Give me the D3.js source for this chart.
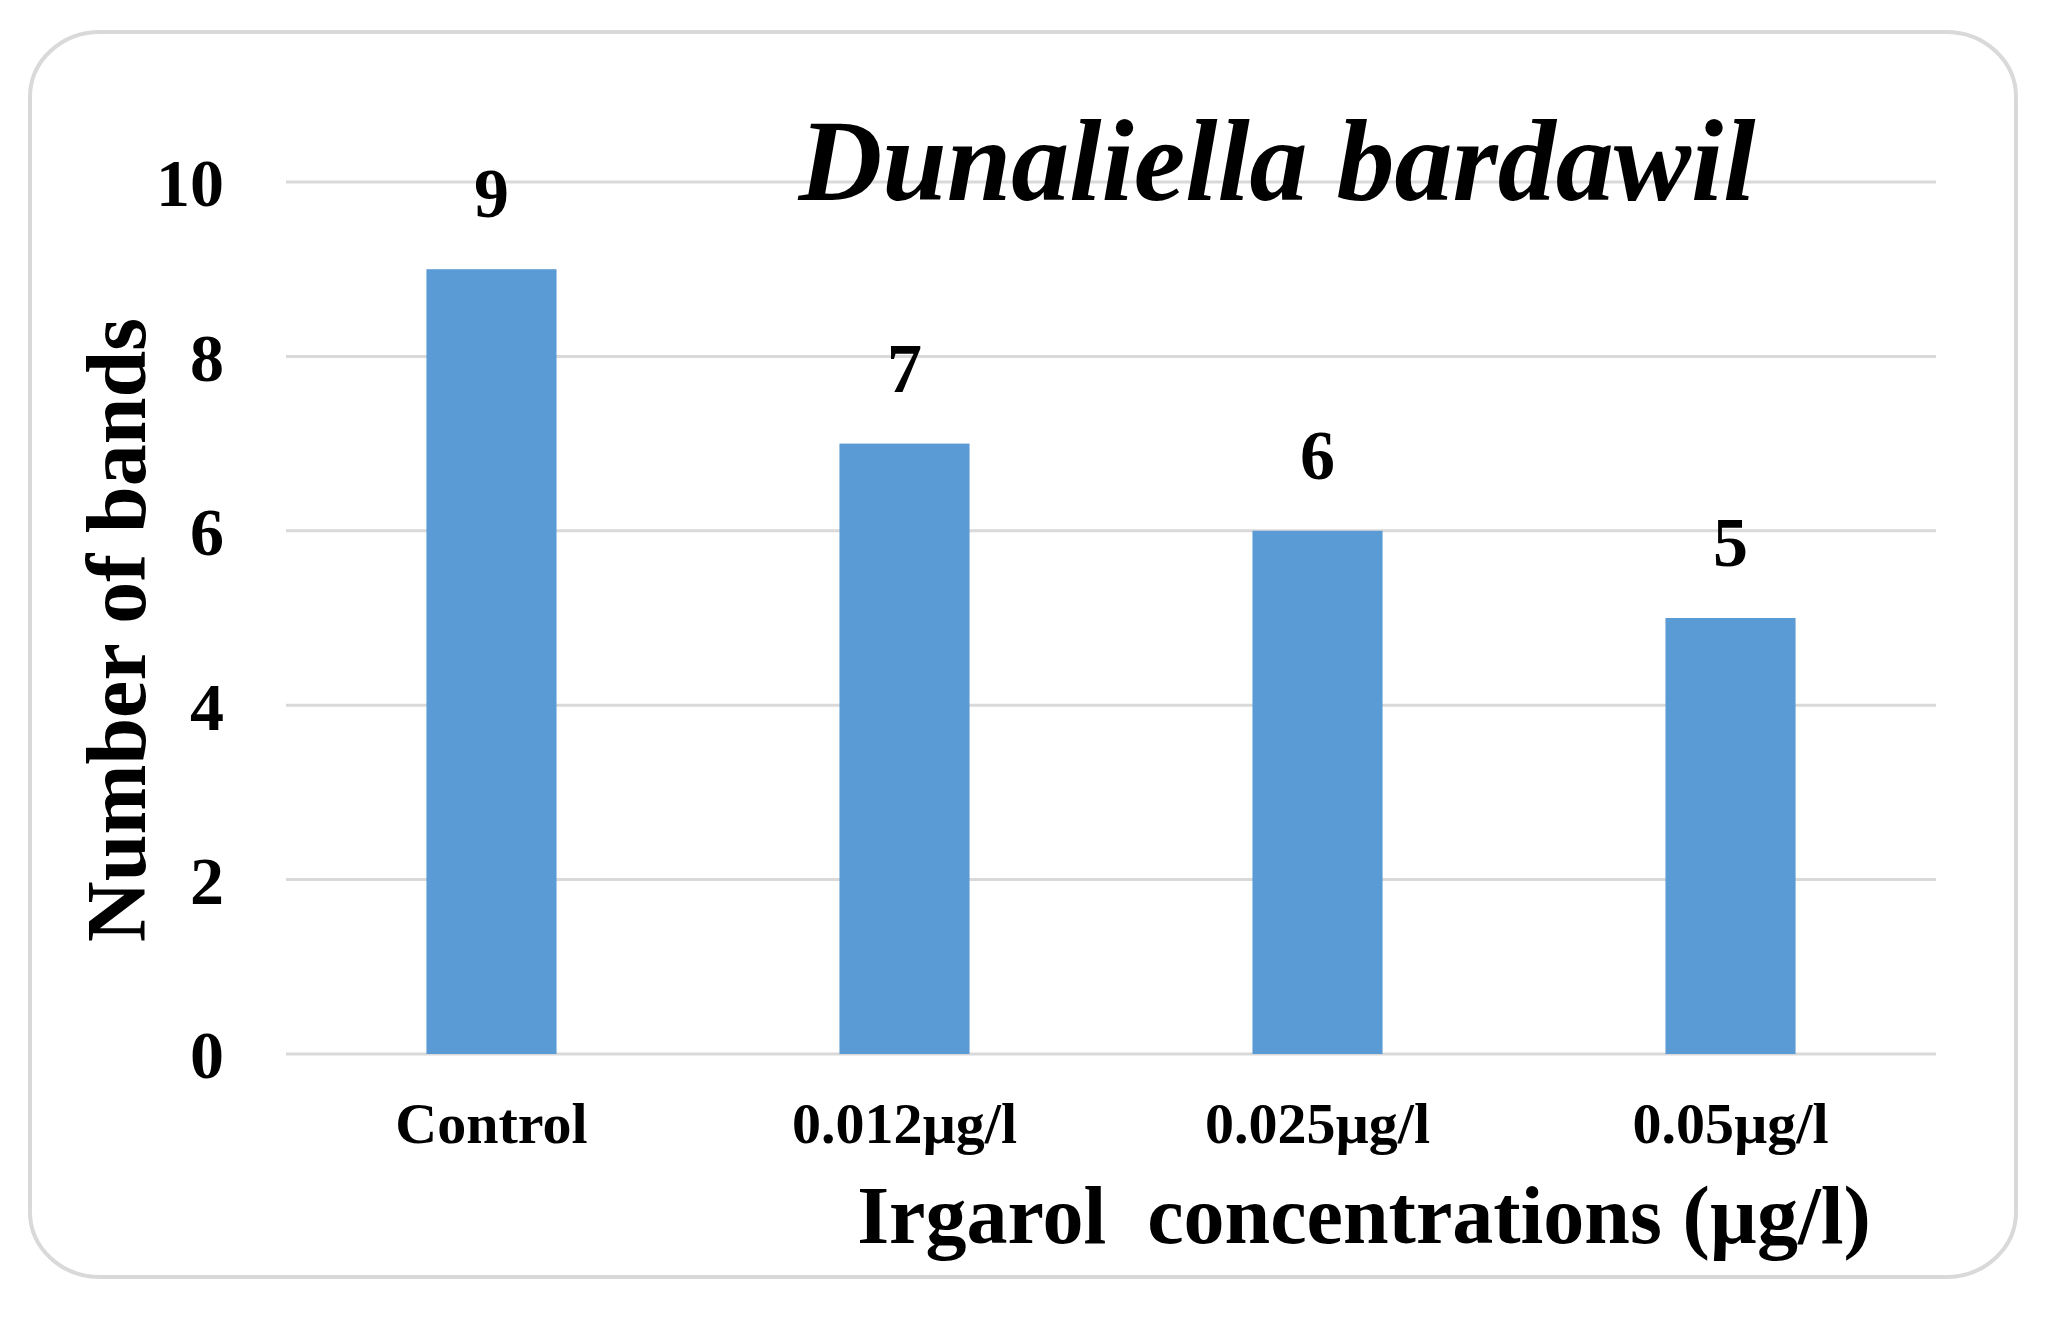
<!DOCTYPE html>
<html>
<head>
<meta charset="utf-8">
<script src="https://cdn.jsdelivr.net/npm/d3@7"></script>
<style>
  body { margin: 0; background: #fff; }
  text { font-family: "Liberation Serif", "Times New Roman", serif; font-weight: bold; fill: #000; }
</style>
</head>
<body>
<div id="chart"></div>
<script>
// data
var categories = ["Control", "0.012µg/l", "0.025µg/l", "0.05µg/l"];
var bands = [9, 7, 6, 5];
var yTicks = [0, 2, 4, 6, 8, 10];

// svg area
var W = 2046, H = 1320;
var margin = { top: 182, right: 110, bottom: 266, left: 286 },
    width = W - margin.left - margin.right,
    height = H - margin.top - margin.bottom;

var svg = d3.select("#chart").append("svg")
    .attr("width", W)
    .attr("height", H);

// rounded frame round the chart
svg.append("rect")
    .attr("x", 30).attr("y", 32)
    .attr("width", 1986).attr("height", 1245)
    .attr("rx", 70).attr("ry", 65)
    .attr("fill", "#fff")
    .attr("stroke", "#d9d9d9")
    .attr("stroke-width", 4);

var g = svg.append("g")
    .attr("transform", "translate(" + margin.left + "," + margin.top + ")");

// scales
var x = d3.scaleBand()
    .domain(categories)
    .range([0, width])
    .paddingInner(0.685)
    .paddingOuter(0.34);

var y = d3.scaleLinear()
    .domain([0, 10])
    .range([height, 0]);

// gridlines
g.append("g")
    .selectAll("line")
    .data(yTicks)
    .enter()
    .append("line")
    .attr("x1", 0)
    .attr("x2", width)
    .attr("y1", function (d) { return y(d); })
    .attr("y2", function (d) { return y(d); })
    .attr("stroke", "#d9d9d9")
    .attr("stroke-width", 3);

// y axis labels (axis line and ticks hidden)
var yAxis = g.append("g")
    .call(d3.axisLeft(y).tickValues(yTicks).tickSize(0).tickPadding(62));
yAxis.select(".domain").remove();
yAxis.selectAll("text")
    .style("font-family", "Liberation Serif")
    .style("font-weight", "bold")
    .style("font-size", "68px")
    .attr("dy", "0.35em");

// x axis labels
var xAxis = g.append("g")
    .attr("transform", "translate(0," + height + ")")
    .call(d3.axisBottom(x).tickSize(0).tickPadding(48));
xAxis.select(".domain").remove();
xAxis.selectAll("text")
    .style("font-family", "Liberation Serif")
    .style("font-weight", "bold")
    .style("font-size", "58px")
    .attr("dy", "0.71em");

// bars
g.append("g")
    .selectAll("rect")
    .data(bands)
    .enter()
    .append("rect")
    .attr("x", function (d, i) { return x(categories[i]); })
    .attr("y", function (d) { return y(d); })
    .attr("width", x.bandwidth())
    .attr("height", function (d) { return height - y(d); })
    .attr("fill", "#5b9bd5");

// value labels over the bars
g.append("g")
    .selectAll("text")
    .data(bands)
    .enter()
    .append("text")
    .attr("x", function (d, i) { return x(categories[i]) + x.bandwidth() / 2; })
    .attr("y", function (d) { return y(d) - 52; })
    .attr("text-anchor", "middle")
    .style("font-size", "70px")
    .text(function (d) { return d; });

// title
svg.append("text")
    .attr("x", 1277)
    .attr("y", 200)
    .attr("text-anchor", "middle")
    .style("font-size", "116px")
    .style("font-style", "italic")
    .text("Dunaliella bardawil");

// axis titles
svg.append("text")
    .attr("transform", "translate(145,630) rotate(-90)")
    .attr("text-anchor", "middle")
    .style("font-size", "84px")
    .text("Number of bands");

svg.append("text")
    .attr("x", 1364)
    .attr("y", 1243)
    .attr("text-anchor", "middle")
    .style("font-size", "82px")
    .style("white-space", "pre")
    .attr("xml:space", "preserve")
    .text("Irgarol  concentrations (µg/l)");
</script>
</body>
</html>
